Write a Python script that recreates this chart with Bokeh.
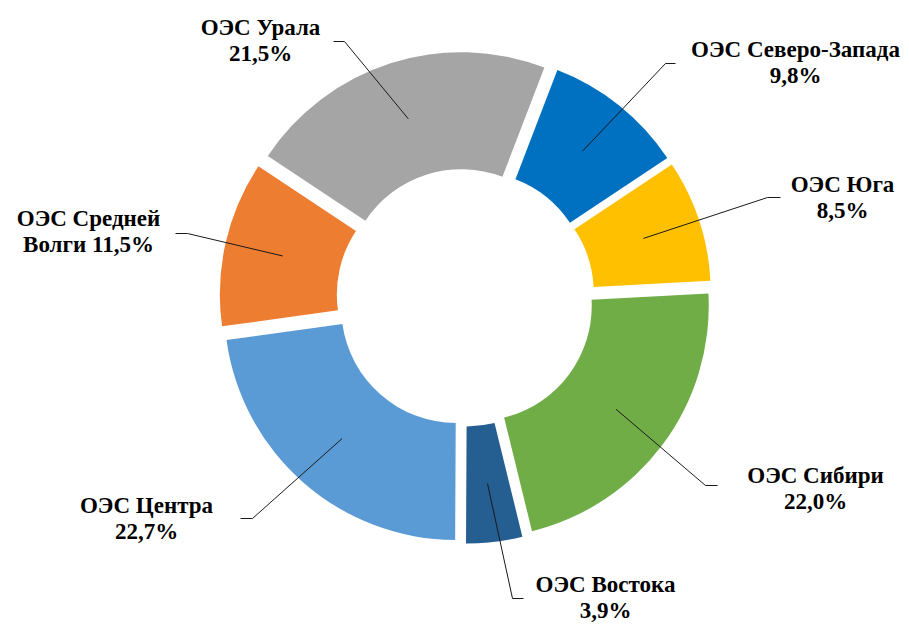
import math
from bokeh.plotting import figure
from bokeh.models import Range1d, ColumnDataSource
from bokeh.core.properties import value
from bokeh.embed import file_html
from bokeh.resources import INLINE

# ---- data ----
names = ["ОЭС Северо-Запада", "ОЭС Юга", "ОЭС Сибири", "ОЭС Востока",
         "ОЭС Центра", "ОЭС Средней Волги", "ОЭС Урала"]
shares = [9.8, 8.5, 22.0, 3.9, 22.7, 11.5, 21.5]
colors = ["#0070C0", "#FFC000", "#70AD47", "#255E91",
          "#5B9BD5", "#ED7D31", "#A5A5A5"]

# ---- layout (screen pixels of the 909x624 page) ----
W, H = 909, 624
CX, CY = 465, 297
R_OUT, R_IN = 232, 115
EXPLODE = 14
START_DEG = 21.0
label_pos = [(795, 49), (842, 184), (815, 475), (605, 584),
             (146, 505), (88, 218), (260, 27)]
elbows = [(665, 63), (767, 197), (705, 485), (512, 598),
          (252, 518), (187, 233), (344, 41)]
ends = [(675, 63), (780, 197), (717, 485), (523, 598),
        (240, 518), (175, 233), (333, 41)]
LINE_GAP = 26
FONT_SIZE = "23px"
FONT = "Liberation Serif"


def fy(Y):
    return H - Y


total = sum(shares)
xs, ys, starts, endsa = [], [], [], []
lx, ly = [], []
cum = 0.0
for s in shares:
    t1 = START_DEG + 360.0 * cum / total
    cum += s
    t2 = START_DEG + 360.0 * cum / total
    tb = math.radians((t1 + t2) / 2)
    cx = CX + EXPLODE * math.sin(tb)
    cy = fy(CY) + EXPLODE * math.cos(tb)
    xs.append(cx)
    ys.append(cy)
    starts.append(math.radians(90 - t2))
    endsa.append(math.radians(90 - t1))
    rm = (R_IN + R_OUT) / 2
    lx.append(cx + rm * math.sin(tb))
    ly.append(cy + rm * math.cos(tb))

src = ColumnDataSource(dict(x=xs, y=ys, start=starts, end=endsa, color=colors))

p = figure(width=W, height=H, x_range=Range1d(0, W), y_range=Range1d(0, H),
           output_backend="svg", toolbar_location=None,
           x_axis_type=None, y_axis_type=None, min_border=0,
           background_fill_color="white", border_fill_color="white")
p.outline_line_color = None
p.grid.visible = False

p.annular_wedge(x="x", y="y", inner_radius=R_IN, outer_radius=R_OUT,
                start_angle="start", end_angle="end", fill_color="color",
                line_color=None, source=src)

# leader lines
mxs, mys = [], []
for i in range(len(shares)):
    mxs.append([lx[i], elbows[i][0], ends[i][0]])
    mys.append([ly[i], fy(elbows[i][1]), fy(ends[i][1])])
p.multi_line(xs=mxs, ys=mys, line_color="#1a1a1a", line_width=1)

# labels
top, bottom = [], []
for n, s in zip(names, shares):
    pct = f"{s:.1f}".replace(".", ",") + "%"
    words = n.split(" ")
    if len(words) > 2:
        top.append(" ".join(words[:-1]))
        bottom.append(words[-1] + " " + pct)
    else:
        top.append(n)
        bottom.append(pct)

tx = [pp[0] for pp in label_pos]
ty1 = [fy(pp[1]) for pp in label_pos]
ty2 = [fy(pp[1] + LINE_GAP) for pp in label_pos]
for txt, tyy in ((top, ty1), (bottom, ty2)):
    p.text(x=tx, y=tyy, text=txt, text_font=value(FONT),
           text_font_style="bold", text_font_size=FONT_SIZE,
           text_align="center", text_baseline="alphabetic", text_color="black")

open("out.html", "w").write(file_html(p, INLINE))
